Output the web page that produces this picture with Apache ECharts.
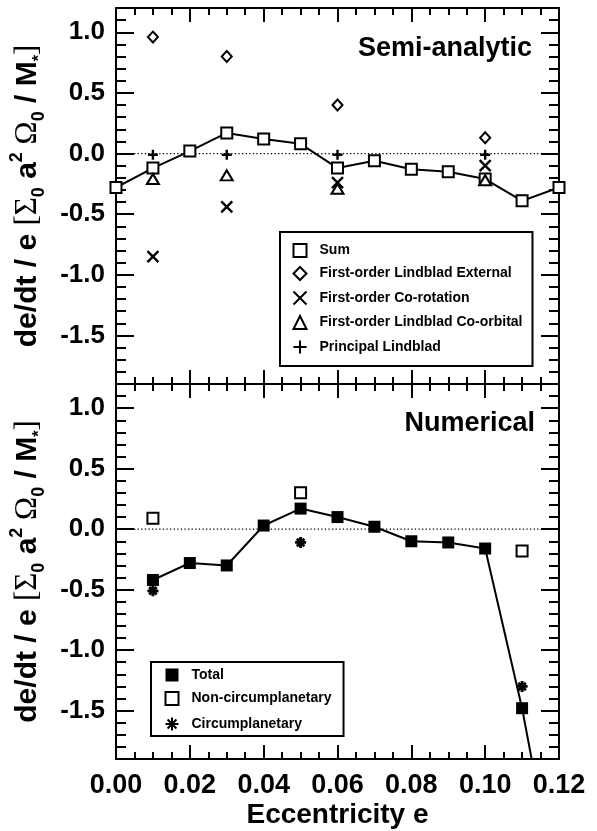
<!DOCTYPE html>
<html>
<head>
<meta charset="utf-8">
<script src="https://cdn.jsdelivr.net/npm/echarts@6/dist/echarts.min.js"></script>
<style>
html,body{margin:0;padding:0;background:#fff;}
#chart{width:597px;height:831px;}
</style>
</head>
<body>
<div id="chart"></div>
<script>
// ---- data ----
const xRange = [0, 0.12];
const yRange = [-1.9, 1.2];
const eccSum = [0.00, 0.01, 0.02, 0.03, 0.04, 0.05, 0.06, 0.07, 0.08, 0.09, 0.10, 0.11, 0.12];
const sumVals = [-0.28, -0.12, 0.02, 0.17, 0.12, 0.08, -0.12, -0.06, -0.13, -0.15, -0.21, -0.39, -0.28];
const compX = [0.01, 0.03, 0.06, 0.10];
const lindExtVals = [0.96, 0.80, 0.40, 0.13];
const coRotVals = [-0.85, -0.44, -0.24, -0.10];
const coOrbVals = [-0.21, -0.18, -0.29, -0.22];
const principalVals = [-0.01, -0.01, -0.01, -0.01];
const eccNum = [0.01, 0.02, 0.03, 0.04, 0.05, 0.06, 0.07, 0.08, 0.09, 0.10, 0.11, 0.12];
const totalVals = [-0.42, -0.28, -0.30, 0.03, 0.17, 0.10, 0.02, -0.10, -0.11, -0.16, -1.48, -3.10];
const partX = [0.01, 0.05, 0.11];
const nonCircVals = [0.09, 0.30, -0.18];
const circVals = [-0.51, -0.11, -1.30];
const zeroX = [0, 0.12];
const zeroY = [0, 0];
const topNames = ['Sum', 'First-order Lindblad External', 'First-order Co-rotation', 'First-order Lindblad Co-orbital', 'Principal Lindblad'];
const botNames = ['Total', 'Non-circumplanetary', 'Circumplanetary'];
const panelLabels = ['Semi-analytic', 'Numerical'];
const xTitle = 'Eccentricity e';

// ---- helpers ----
const zip = (xs, ys) => xs.map((x, i) => [x, ys[i]]);
const FONT = '"Liberation Sans", Arial, Helvetica, sans-serif';
const SERIF = '"Liberation Serif", "DejaVu Serif", serif';
const black = '#000';

const X_PATH = 'path://M0,0L10,10M10,0L0,10';
const PLUS_PATH = 'path://M5,0L5,10M0,5L10,5';
const AST_PATH = 'path://M5,0L5,10M0,5L10,5M1.6,1.6L8.4,8.4M8.4,1.6L1.6,8.4';

function xAxisDef(gridIndex, position, showLabel, name) {
  return {
    type: 'value', gridIndex, position, min: xRange[0], max: xRange[1], interval: 0.02,
    axisLine: { show: true, onZero: false, lineStyle: { color: black, width: 2 } },
    axisTick: { show: true, inside: true, length: 14, lineStyle: { color: black, width: 2 } },
    minorTick: { show: true, splitNumber: 4, length: 7, lineStyle: { color: black, width: 2 } },
    splitLine: { show: false }, minorSplitLine: { show: false },
    axisLabel: { show: showLabel, margin: 13, color: black, fontFamily: FONT, fontWeight: 'bold', fontSize: 27,
      formatter: v => v.toFixed(2) },
    name: name || '', nameLocation: 'middle', nameGap: 42,
    nameTextStyle: { color: black, fontFamily: FONT, fontWeight: 'bold', fontSize: 28 }
  };
}

const yName = '{b|de/dt / e }{g|[Σ}{s|0}{b| a}{p|2}{g| Ω}{s|0}{b| / M}{st|*}{g|]}';
const yRich = {
  b: { fontFamily: FONT, fontWeight: 'bold', fontSize: 30, lineHeight: 40, color: black },
  g: { fontFamily: SERIF, fontWeight: 'normal', fontSize: 31, lineHeight: 40, color: black },
  s: { fontFamily: FONT, fontWeight: 'bold', fontSize: 18, lineHeight: 22, verticalAlign: 'bottom', color: black },
  st: { fontFamily: FONT, fontWeight: 'bold', fontSize: 16, lineHeight: 26, verticalAlign: 'bottom', color: black },
  p: { fontFamily: FONT, fontWeight: 'bold', fontSize: 18, lineHeight: 28, verticalAlign: 'top', color: black }
};

function yAxisDef(gridIndex, position, showLabel) {
  return {
    type: 'value', gridIndex, position, min: yRange[0], max: yRange[1], splitNumber: 5,
    axisLine: { show: true, onZero: false, lineStyle: { color: black, width: 2 } },
    axisTick: { show: true, inside: true, length: 18, lineStyle: { color: black, width: 2 } },
    minorTick: { show: true, splitNumber: 5, length: 10, lineStyle: { color: black, width: 2 } },
    splitLine: { show: false }, minorSplitLine: { show: false },
    axisLabel: { show: showLabel, margin: 11, color: black, fontFamily: FONT, fontWeight: 'bold', fontSize: 26,
      showMinLabel: false, showMaxLabel: false, formatter: v => v.toFixed(1) },
    name: showLabel ? yName : '', nameLocation: 'middle', nameRotate: 90, nameGap: 68,
    nameTextStyle: { rich: yRich }
  };
}

const openStyle = { color: '#fff', borderColor: black, borderWidth: 2, opacity: 1 };
const strokeStyle = { color: 'none', borderColor: black, borderWidth: 2.4, opacity: 1 };

function zeroLine(gi) {
  return { type: 'line', xAxisIndex: gi * 2, yAxisIndex: gi * 2, data: zip(zeroX, zeroY), symbol: 'none',
    lineStyle: { color: black, width: 1.3, type: [1.3, 2.3] }, z: 1, silent: true };
}

const series = [
  zeroLine(0), zeroLine(1),
  { name: topNames[0], type: 'line', xAxisIndex: 0, yAxisIndex: 0, data: zip(eccSum, sumVals),
    symbol: 'rect', symbolSize: 11, showAllSymbol: true, itemStyle: openStyle, lineStyle: { color: black, width: 2 }, z: 3 },
  { name: topNames[1], type: 'scatter', xAxisIndex: 0, yAxisIndex: 0, data: zip(compX, lindExtVals),
    symbol: 'diamond', symbolSize: [10, 11], itemStyle: openStyle, z: 4 },
  { name: topNames[2], type: 'scatter', xAxisIndex: 0, yAxisIndex: 0, data: zip(compX, coRotVals),
    symbol: X_PATH, symbolSize: 11, itemStyle: strokeStyle, z: 4 },
  { name: topNames[3], type: 'scatter', xAxisIndex: 0, yAxisIndex: 0, data: zip(compX, coOrbVals),
    symbol: 'triangle', symbolSize: [12, 10], itemStyle: openStyle, z: 4 },
  { name: topNames[4], type: 'scatter', xAxisIndex: 0, yAxisIndex: 0, data: zip(compX, principalVals),
    symbol: PLUS_PATH, symbolSize: 10, itemStyle: strokeStyle, z: 4 },
  { name: botNames[0], type: 'line', xAxisIndex: 2, yAxisIndex: 2, data: zip(eccNum, totalVals),
    symbol: 'rect', symbolSize: 12, showAllSymbol: true, itemStyle: { color: black, borderColor: black, borderWidth: 0, opacity: 1 },
    lineStyle: { color: black, width: 2 }, z: 3 },
  { name: botNames[1], type: 'scatter', xAxisIndex: 2, yAxisIndex: 2, data: zip(partX, nonCircVals),
    symbol: 'rect', symbolSize: 11, itemStyle: openStyle, z: 4 },
  { name: botNames[2], type: 'scatter', xAxisIndex: 2, yAxisIndex: 2, data: zip(partX, circVals),
    symbol: AST_PATH, symbolSize: 11, itemStyle: { color: 'none', borderColor: black, borderWidth: 2.8, opacity: 1 }, z: 4 }
];

const legendText = { color: black, fontFamily: FONT, fontWeight: 'bold', fontSize: 14, padding: [0, 0, 0, 8] };

const option = {
  animation: false,
  backgroundColor: '#fff',
  grid: [
    { left: 114, top: 8, width: 445, height: 376, containLabel: false },
    { left: 114, top: 384, width: 445, height: 375, containLabel: false }
  ],
  xAxis: [
    xAxisDef(0, 'bottom', false), xAxisDef(0, 'top', false),
    xAxisDef(1, 'bottom', true, xTitle), xAxisDef(1, 'top', false)
  ],
  yAxis: [
    yAxisDef(0, 'left', true), yAxisDef(0, 'right', false),
    yAxisDef(1, 'left', true), yAxisDef(1, 'right', false)
  ],
  legend: [
    { orient: 'vertical', left: 280, top: 232, itemWidth: 13, itemHeight: 13, itemGap: 8,
      padding: [11, 10, 10, 11], borderColor: black, borderWidth: 2, backgroundColor: '#fff',
      selectedMode: false, textStyle: legendText,
      data: [{ name: topNames[0], icon: 'rect' }, topNames[1], topNames[2], topNames[3], topNames[4]] },
    { orient: 'vertical', left: 151, top: 662, itemWidth: 13, itemHeight: 13, itemGap: 9,
      padding: [6, 12, 3, 12], borderColor: black, borderWidth: 2, backgroundColor: '#fff',
      selectedMode: false, textStyle: legendText,
      data: [{ name: botNames[0], icon: 'rect' }, botNames[1], botNames[2]] }
  ],
  graphic: [
    { type: 'text', right: 597 - 532, top: 35, z: 10,
      style: { text: panelLabels[0], fill: black, font: 'bold 27px ' + FONT } },
    { type: 'text', right: 597 - 535, top: 410, z: 10,
      style: { text: panelLabels[1], fill: black, font: 'bold 27px ' + FONT } }
  ],
  series
};

const chart = echarts.init(document.getElementById('chart'), null, { renderer: 'canvas' });
chart.setOption(option);
</script>
</body>
</html>
